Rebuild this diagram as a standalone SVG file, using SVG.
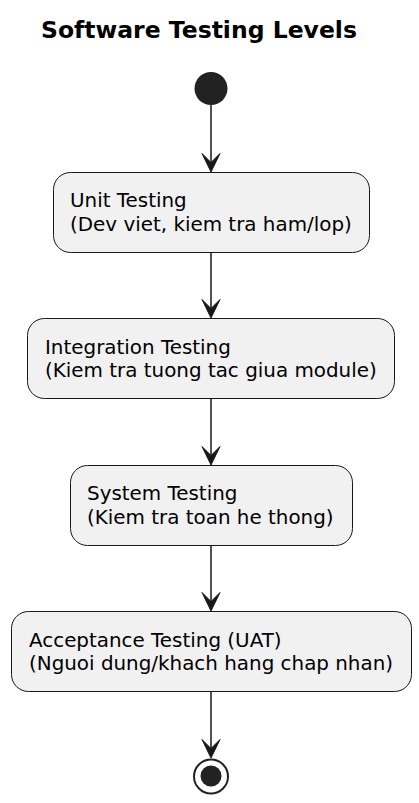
<svg xmlns="http://www.w3.org/2000/svg" width="419" height="803" viewBox="0 0 419 803">
<style>
.box{fill:#F1F1F1;stroke:#181818;stroke-width:1}
.t{font-family:"DejaVu Sans",sans-serif;font-size:19.9px;fill:#000}
.ln{stroke:#181818;stroke-width:1.5;fill:none}
.ah{fill:#181818;stroke:#181818;stroke-width:1}
</style>
<rect width="419" height="803" fill="#FFFFFF"/>
<text x="41" y="38" style="font-family:'DejaVu Sans',sans-serif;font-size:23.5px;font-weight:bold">Software Testing Levels</text>
<g id="start"><circle cx="211" cy="88.5" r="16.5" fill="#222222"/></g>
<g id="unit">
<rect class="box" x="53.5" y="172.5" width="316" height="80" rx="17" ry="17"/>
<text class="t" x="70" y="207.3">Unit Testing</text>
<text class="t" x="70" y="230.6">(Dev viet, kiem tra ham/lop)</text>
</g>
<g id="integration">
<rect class="box" x="27.5" y="318.5" width="367" height="80" rx="17" ry="17"/>
<text class="t" x="45" y="353.5">Integration Testing</text>
<text class="t" x="45" y="376.8">(Kiem tra tuong tac giua module)</text>
</g>
<g id="system">
<rect class="box" x="70.5" y="465.5" width="282" height="80" rx="17" ry="17"/>
<text class="t" x="87" y="500.3">System Testing</text>
<text class="t" x="87" y="523.6">(Kiem tra toan he thong)</text>
</g>
<g id="acceptance">
<rect class="box" x="11.5" y="611.5" width="400" height="80" rx="17" ry="17"/>
<text class="t" x="29" y="646.5">Acceptance Testing (UAT)</text>
<text class="t" x="29" y="669.8">(Nguoi dung/khach hang chap nhan)</text>
</g>
<g id="end">
<circle cx="211" cy="776.5" r="17" fill="none" stroke="#222222" stroke-width="2"/>
<circle cx="211" cy="776" r="10.5" fill="#222222"/>
</g>
<g id="connectors">
<line class="ln" x1="211" y1="105" x2="211" y2="166"/>
<polygon class="ah" points="211,172 202,153.5 211,162.5 220,153.5"/>
<line class="ln" x1="211" y1="252.5" x2="211" y2="312"/>
<polygon class="ah" points="211,318 202,299.5 211,308.5 220,299.5"/>
<line class="ln" x1="211" y1="398.5" x2="211" y2="459"/>
<polygon class="ah" points="211,465 202,446.5 211,455.5 220,446.5"/>
<line class="ln" x1="211" y1="545.5" x2="211" y2="605"/>
<polygon class="ah" points="211,611 202,592.5 211,601.5 220,592.5"/>
<line class="ln" x1="211" y1="691.5" x2="211" y2="752"/>
<polygon class="ah" points="211,758 202,739.5 211,748.5 220,739.5"/>
</g>
</svg>
